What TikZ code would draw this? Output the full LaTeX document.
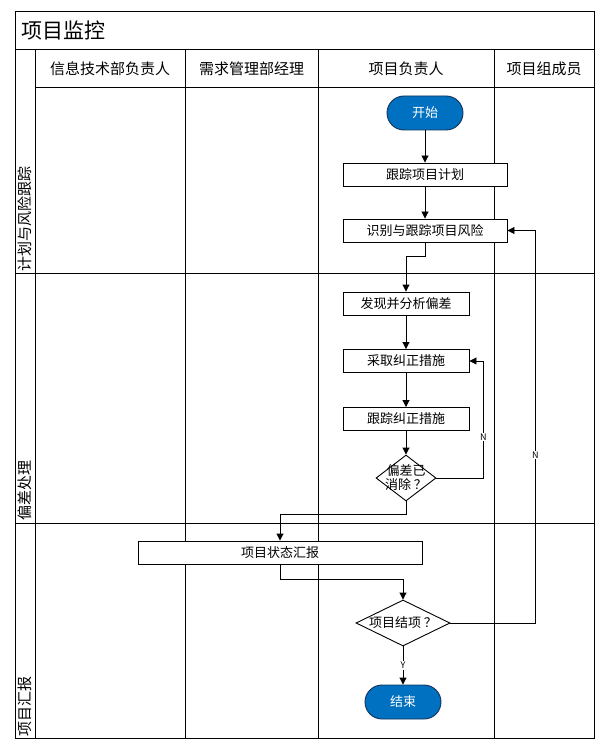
\documentclass[tikz,border=0pt]{standalone}
\usepackage{fontspec}
\setmainfont{Noto Sans CJK SC}
\usetikzlibrary{shapes.geometric,arrows.meta,calc}
\definecolor{pillblue}{RGB}{0,112,192}
\definecolor{pilledge}{RGB}{20,50,90}
\begin{document}
\begin{tikzpicture}[x=1pt,y=-1pt,
  frame/.style={draw=black,line width=1pt},
  hdr/.style={font=\fontsize{15}{17}\selectfont,inner sep=0pt},
  lane/.style={font=\fontsize{15}{17}\selectfont,rotate=90,anchor=west,inner sep=0pt},
  stepbox/.style={draw=black,line width=0.9pt,fill=white,minimum height=23pt,inner sep=0pt,font=\fontsize{13}{15}\selectfont},
  pill/.style={draw=pilledge,line width=0.9pt,fill=pillblue,rounded corners=17pt,minimum width=76pt,minimum height=34pt,inner sep=0pt,text=white,font=\fontsize{13}{15}\selectfont},
  decide/.style={diamond,draw=black,line width=0.9pt,fill=white,inner sep=0pt,aspect=1},
  dtext/.style={font=\fontsize{13}{14}\selectfont,align=center,inner sep=0pt},
  arr/.style={draw=black,line width=0.9pt,-{Triangle[length=7pt,width=7pt]}},
  lbl/.style={font=\fontsize{9}{10}\selectfont,fill=white,inner sep=1pt}
]
\useasboundingbox (0,0) rectangle (608,751);
% frame
\draw[frame] (15,12) rectangle (594,738);
\draw[frame] (15,50) -- (594,50);
\draw[frame] (35,88) -- (594,88);
\draw[frame] (15,273) -- (594,273);
\draw[frame] (15,523) -- (594,523);
\foreach \x in {35,185,318,494} \draw[frame] (\x,50) -- (\x,738);
% title & headers
\node[anchor=west,inner sep=0pt,font=\fontsize{21}{24}\selectfont] (title) at (21,31) {项目监控};
\node[hdr] (h1) at (110,69) {信息技术部负责人};
\node[hdr] (h2) at (251.5,69) {需求管理部经理};
\node[hdr] (h3) at (406,69) {项目负责人};
\node[hdr] (h4) at (544,69) {项目组成员};
% lane labels
\node[lane] (l1) at (25,272) {计划与风险跟踪};
\node[lane] (l2) at (25,521) {偏差处理};
\node[lane] (l3) at (25,737) {项目汇报};
% nodes
\node[pill] (start) at (425,113) {开始};
\node[stepbox,minimum width=164pt] (plan) at (425,174.5) {跟踪项目计划};
\node[stepbox,minimum width=164pt] (risk) at (425,230.5) {识别与跟踪项目风险};
\node[stepbox,minimum width=126pt] (find) at (406,303.5) {发现并分析偏差};
\node[stepbox,minimum width=126pt] (act) at (406,361) {采取纠正措施};
\node[stepbox,minimum width=126pt] (track) at (406,419) {跟踪纠正措施};
\node[decide,minimum width=60pt,minimum height=46pt] (dec1) at (406,478) {};
\node[dtext] (dec1t) at (dec1.center) {偏差已\\消除\hspace{3pt}？};
\node[stepbox,minimum width=284pt] (report) at (280,552.5) {项目状态汇报};
\node[decide,minimum width=94pt,minimum height=46pt] (dec2) at (403,623) {};
\node[dtext] (dec2t) at (dec2.center) {项目结项\hspace{3pt}？};
\node[pill] (end) at (403,702) {结束};
% connectors
\draw[arr] (start) -- (plan);
\draw[arr] (plan) -- (risk);
\draw[arr] (risk.south) -- ++(0,14) -| (find.north);
\draw[arr] (find) -- (act);
\draw[arr] (act) -- (track);
\draw[arr] (track) -- (dec1.north);
\draw[arr] (dec1.east) -- ++(47,0) |- node[lbl,pos=0.175] {N} (act.east);
\draw[arr] (dec1.south) -- ++(0,13) -| (report.north);
\draw[arr] (report.south) -- ++(0,15) -| (dec2.north);
\draw[arr] (dec2.south) -- node[lbl,pos=0.5] {Y} (end.north);
\draw[arr] (dec2.east) -- ++(85,0) |- node[lbl,pos=0.214] {N} (risk.east);
\end{tikzpicture}
\end{document}
